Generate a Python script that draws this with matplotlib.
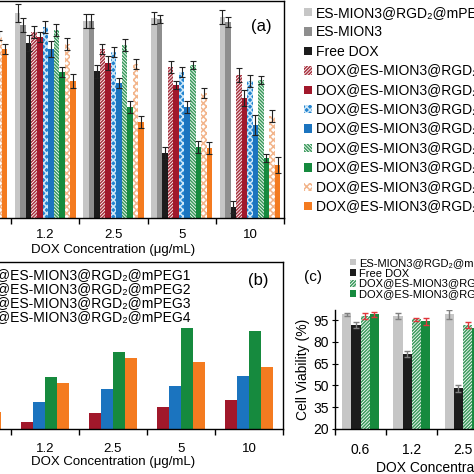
import matplotlib
matplotlib.use('Agg')
import matplotlib.pyplot as plt
import numpy as np

plt.rcParams['font.family'] = ['Liberation Sans', 'DejaVu Sans']
plt.rcParams['hatch.linewidth'] = 1.1
plt.rcParams['axes.linewidth'] = 1.0

# ---------------- data ----------------
conc = ['0.6', '1.2', '2.5', '5', '10']

# panel (a): cell viability (%)
names_a = ['ES-MION3@RGD₂@mPEG1', 'ES-MION3', 'Free DOX',
           'DOX@ES-MION3@RGD₂@mPEG1 (pH 7.4)', 'DOX@ES-MION3@RGD₂@mPEG1 (pH 5.0)',
           'DOX@ES-MION3@RGD₂@mPEG2 (pH 7.4)', 'DOX@ES-MION3@RGD₂@mPEG2 (pH 5.0)',
           'DOX@ES-MION3@RGD₂@mPEG3 (pH 7.4)', 'DOX@ES-MION3@RGD₂@mPEG3 (pH 5.0)',
           'DOX@ES-MION3@RGD₂@mPEG4 (pH 7.4)', 'DOX@ES-MION3@RGD₂@mPEG4 (pH 5.0)']
vals_a = [
    [104.0, 103.9, 99.7, 101.4, 101.9],
    [100.0, 97.8, 99.7, 100.9, 99.4],
    [95.0, 88.7, 74.3, 32.9, 5.6],
    [98.0, 94.3, 85.7, 76.5, 72.5],
    [97.0, 91.7, 78.6, 67.4, 60.8],
    [99.0, 96.8, 84.1, 74.0, 69.4],
    [96.0, 85.7, 68.4, 56.3, 47.1],
    [98.0, 95.3, 87.7, 77.6, 70.0],
    [93.0, 74.0, 56.3, 36.0, 30.4],
    [92.5, 88.2, 78.1, 63.4, 51.7],
    [85.7, 69.4, 48.7, 35.5, 26.9],
]
errs_a = [
    [4.0, 4.5, 3.5, 3.0, 3.5],
    [3.0, 3.5, 3.5, 2.0, 2.5],
    [3.0, 4.0, 3.5, 3.0, 3.0],
    [3.0, 3.0, 2.5, 3.0, 3.5],
    [3.0, 2.5, 3.5, 2.0, 4.0],
    [3.0, 3.0, 2.5, 2.5, 3.0],
    [3.0, 4.0, 2.5, 3.0, 5.0],
    [3.0, 3.0, 3.0, 2.0, 2.0],
    [2.5, 2.5, 3.0, 3.0, 2.0],
    [2.5, 3.0, 2.5, 2.5, 3.0],
    [2.5, 3.5, 3.0, 3.0, 4.0],
]
face_a = ['#c6c6c6', '#8e8e8e', '#1c1c1c', 'white', '#a1182b', '#2384d0',
          '#1b74bf', 'white', '#168a3e', 'white', '#f47b20']
hatchcol_a = ['#c6c6c6', '#8e8e8e', '#1c1c1c', '#a8323f', '#a1182b', '#cfe8f8',
              '#1b74bf', '#3a9a5c', '#168a3e', '#f2b48a', '#f47b20']
hatch_a = [None, None, None, '//////////', None, 'xxxxx', None,
           '\\\\\\\\\\\\\\\\\\\\', None, 'xxxxx', None]

# panel (b)
names_b = ['DOX@ES-MION3@RGD₂@mPEG1', 'DOX@ES-MION3@RGD₂@mPEG2',
           'DOX@ES-MION3@RGD₂@mPEG3', 'DOX@ES-MION3@RGD₂@mPEG4']
vals_b = [
    [1.0, 2.2, 4.8, 6.6, 8.7],
    [3.0, 8.1, 12.0, 12.9, 15.8],
    [4.5, 15.5, 23.0, 30.2, 29.3],
    [5.1, 13.8, 21.2, 20.0, 18.5],
]
colors_b = ['#a1182b', '#1b74bf', '#168a3e', '#f47b20']

# panel (c)
names_c = ['ES-MION3@RGD₂@mPEG3', 'Free DOX',
           'DOX@ES-MION3@RGD₂@mPEG3 (pH 7.4)', 'DOX@ES-MION3@RGD₂@mPEG3 (pH 5.0)']
vals_c = [
    [98.9, 97.7, 98.9, 98.5, 98.0],
    [91.6, 71.6, 48.0, 30.0, 15.0],
    [97.7, 95.5, 91.6, 88.0, 85.0],
    [98.9, 94.3, 89.7, 85.0, 80.0],
]
errs_c = [
    [1.2, 2.2, 2.8, 2.0, 2.0],
    [2.2, 2.0, 2.5, 2.0, 2.0],
    [2.2, 1.2, 2.0, 2.0, 2.0],
    [1.5, 2.5, 2.0, 2.0, 2.0],
]
yticks_c = [20, 35, 50, 65, 80, 95]

# ---------------- figure ----------------
W = 474
fig = plt.figure(figsize=(4.74, 4.74), dpi=100)


def add_ax(l, t, r, b):
    return fig.add_axes([l / W, 1 - b / W, (r - l) / W, (b - t) / W])


def group_ticks(ax, fs, pad):
    n = len(conc)
    ax.set_xlim(-0.5, n - 0.5)
    ax.set_xticks(np.arange(n + 1) - 0.5)
    ax.set_xticklabels([])
    ax.set_xticks(np.arange(n), minor=True)
    ax.set_xticklabels(conc, minor=True, fontsize=fs)
    ax.tick_params(axis='x', which='major', direction='out', length=4, width=1)
    ax.tick_params(axis='x', which='minor', length=0, pad=pad)


x = np.arange(len(conc))

# ----- (a) -----
axa = add_ax(-57, 1, 284, 218)
wa = 0.081
handles_a = []
for i in range(11):
    xi = x + (i - 5) * wa
    b = axa.bar(xi, vals_a[i], wa, color=face_a[i], edgecolor=hatchcol_a[i],
                hatch=hatch_a[i], linewidth=0, label=names_a[i])
    handles_a.append(b)
    axa.errorbar(xi, vals_a[i], yerr=errs_a[i], fmt='none', ecolor='#222222',
                 elinewidth=0.8, capsize=2.2, capthick=0.8)
axa.set_ylim(0, 110)
axa.set_yticks([])
group_ticks(axa, 9.5, 8)
axa.set_xlabel('DOX Concentration (μg/mL)', fontsize=9.5, labelpad=2)
fig.text(261 / W, 1 - 26 / W, '(a)', fontsize=12, ha='center', va='center')

fig.legend(handles=handles_a, labels=names_a, loc='upper left',
           bbox_to_anchor=(304 / W, 1 - 6 / W), frameon=False, fontsize=10,
           handlelength=0.55, handleheight=0.55, handletextpad=0.3,
           labelspacing=0.39, borderaxespad=0, borderpad=0)

# ----- (b) -----
axb = add_ax(-57, 262, 283, 429)
wb = 0.18
handles_b = []
for i in range(4):
    xi = x + (i - 1.5) * wb
    b = axb.bar(xi, vals_b[i], wb, color=colors_b[i], linewidth=0, label=names_b[i])
    handles_b.append(b)
axb.set_ylim(0, 50)
axb.set_yticks([])
group_ticks(axb, 9.5, 10)
axb.set_xlabel('DOX Concentration (μg/mL)', fontsize=9.5, labelpad=1)
fig.text(258 / W, 1 - 281 / W, '(b)', fontsize=12, ha='center', va='center')
fig.legend(handles=handles_b, labels=names_b, loc='upper left',
           bbox_to_anchor=(-45 / W, 1 - 268 / W), frameon=False, fontsize=10,
           handlelength=0.55, handleheight=0.55, handletextpad=0.3,
           labelspacing=0.0, borderaxespad=0, borderpad=0)

# ----- (c) -----
axc = add_ax(335, 310, 591, 429)
wc = 0.18
face_c = ['#c6c6c6', '#1c1c1c', 'white', '#168a3e']
hcol_c = ['#c6c6c6', '#1c1c1c', '#3a9a5c', '#168a3e']
hatch_c = [None, None, '//////////', None]
ecol_c = ['#808080', '#808080', '#e0363c', '#e0363c']
handles_c = []
for i in range(4):
    xi = x + (i - 1.5) * wc
    b = axc.bar(xi, vals_c[i], wc, color=face_c[i], edgecolor=hcol_c[i],
                hatch=hatch_c[i], linewidth=0, label=names_c[i])
    handles_c.append(b)
    axc.errorbar(xi, vals_c[i], yerr=errs_c[i], fmt='none', ecolor=ecol_c[i],
                 elinewidth=1.0, capsize=2, capthick=1.0)
axc.set_ylim(20, 102)
axc.set_yticks(yticks_c)
axc.tick_params(axis='y', direction='inout', length=5, labelsize=10, pad=2)
group_ticks(axc, 10, 10)
axc.spines['top'].set_visible(False)
axc.spines['right'].set_visible(False)
axc.set_ylabel('Cell Viability (%)', fontsize=10, labelpad=2)
axc.set_xlabel('DOX Concentration (μg/mL)', fontsize=10, labelpad=3)
fig.text(313 / W, 1 - 277 / W, '(c)', fontsize=11, ha='center', va='center')
fig.legend(handles=handles_c, labels=names_c, loc='upper left',
           bbox_to_anchor=(350 / W, 1 - 258 / W), frameon=False, fontsize=8,
           handlelength=0.55, handleheight=0.55, handletextpad=0.3,
           labelspacing=0.05, borderaxespad=0, borderpad=0)

fig.savefig('out.png', dpi=100)
